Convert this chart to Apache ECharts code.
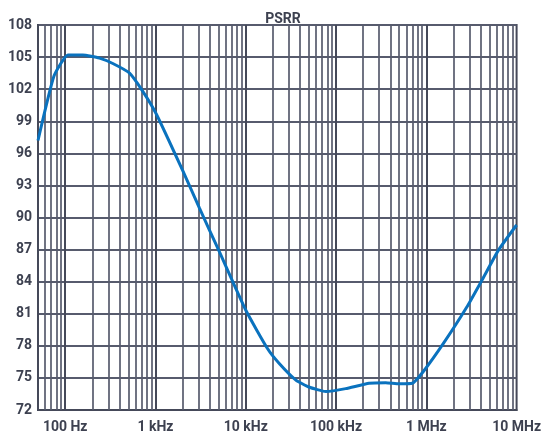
<!DOCTYPE html>
<html>
<head>
<meta charset="utf-8">
<script src="https://cdn.jsdelivr.net/npm/echarts@6/dist/echarts.min.js"></script>
<style>html,body{margin:0;padding:0;background:#fff}#c{width:544px;height:436px}</style>
</head>
<body>
<div id="c"></div>
<script>
// Frequency (Hz) and PSRR (dB)
const freqHz = [50, 75, 107, 157, 240, 337, 516, 724, 1018, 2000, 3063, 5100, 10050, 17400, 23500, 35900, 50000, 77000, 128000, 232000, 355000, 500000, 700000, 927000, 1540000, 2800000, 4140000, 6300000, 10000000];
const psrrDb = [97.2, 103.2, 105.2, 105.2, 104.9, 104.4, 103.5, 101.8, 99.7, 94.4, 90.9, 86.8, 81.3, 77.75, 76.35, 74.8, 74.15, 73.73, 74.0, 74.5, 74.55, 74.45, 74.5, 75.6, 78.2, 81.6, 84.15, 86.95, 89.3];
const xTickLabels = {100: '100 Hz', 1000: '1 kHz', 10000: '10 kHz', 100000: '100 kHz', 1000000: '1 MHz', 10000000: '10 MHz'};
const yTicks = [72, 75, 78, 81, 84, 87, 90, 93, 96, 99, 102, 105, 108];

const gridColor = '#575b6d';
const decadeColor = '#454959';
const textColor = '#3d4150';

// vertical log grid lines (2..9 per decade, plus 60..90)
const vLines = [];
for (let d = 10; d <= 1e6; d *= 10) {
  for (let m = 1; m <= 9; m++) {
    const v = d * m;
    if (v > 50 && v < 1e7) vLines.push({xAxis: v, lineStyle: m === 1 ? {width: 2, color: decadeColor} : {width: 1.7, color: gridColor}});
  }
}

const chart = echarts.init(document.getElementById('c'), null, {renderer: 'canvas'});
chart.setOption({
  animation: false,
  backgroundColor: '#fff',
  title: {
    text: 'PSRR', left: 278, top: 7, textAlign: 'center',
    textStyle: {fontFamily: 'Roboto', fontWeight: 'bold', fontSize: 14, color: textColor}
  },
  grid: {left: 38, right: 26, top: 25, bottom: 26, show: true, borderColor: '#454959', borderWidth: 2},
  xAxis: {
    type: 'log', logBase: 10, min: 50, max: 1e7,
    axisLine: {show: true, lineStyle: {color: '#454959', width: 2}},
    axisTick: {show: false},
    splitLine: {show: false},
    axisLabel: {
      margin: 10, fontFamily: 'Roboto', fontWeight: 'bold', fontSize: 14, color: textColor,
      showMinLabel: true, showMaxLabel: true,
      formatter: v => xTickLabels[Math.round(v)] || ''
    }
  },
  yAxis: {
    type: 'value', min: yTicks[0], max: yTicks[yTicks.length - 1], interval: 3,
    axisLine: {show: true, lineStyle: {color: '#454959', width: 2}},
    axisTick: {show: false},
    splitLine: {show: true, lineStyle: {color: gridColor, width: 2}},
    axisLabel: {margin: 6, fontFamily: 'Roboto', fontWeight: 'bold', fontSize: 14, color: textColor}
  },
  series: [
    {
      type: 'line', data: [], z: 1, silent: true,
      markLine: {
        silent: true, symbol: 'none', animation: false,
        label: {show: false},
        lineStyle: {color: gridColor, type: 'solid', width: 1.7},
        data: vLines
      }
    },
    {
      type: 'line', z: 5,
      data: freqHz.map((f, i) => [f, psrrDb[i]]),
      smooth: 0.15, showSymbol: false,
      lineStyle: {color: '#0a72be', width: 3}
    }
  ]
});
</script>
</body>
</html>
